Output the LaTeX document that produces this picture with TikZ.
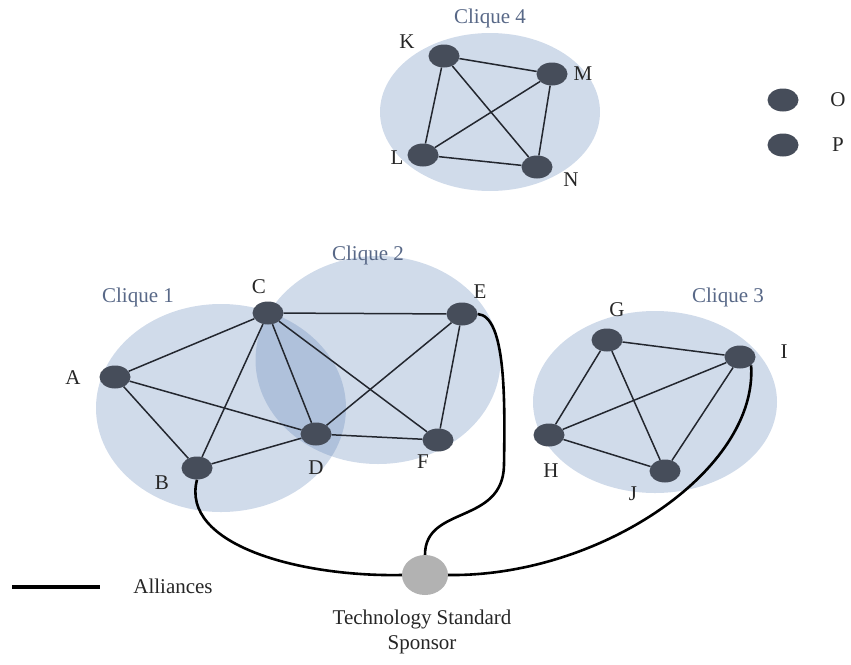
\documentclass[tikz,border=0pt]{standalone}
\usepackage{fontspec}
\setmainfont{Liberation Serif}
\usetikzlibrary{shapes.geometric}
\definecolor{vcol}{RGB}{70,77,90}
\definecolor{ccol}{RGB}{100,135,185}
\definecolor{clab}{RGB}{88,104,135}
\definecolor{ecol}{RGB}{35,39,47}
\definecolor{scol}{RGB}{178,178,178}
\tikzset{
  vert/.style={ellipse, fill=vcol, minimum width=31pt, minimum height=23pt, inner sep=0pt},
  clq/.style={ellipse, fill=ccol, fill opacity=0.3, inner sep=0pt},
  lab/.style={font=\fontsize{21}{25}\selectfont, text=black!85},
  clabel/.style={font=\fontsize{21}{25}\selectfont, text=clab},
  edge/.style={draw=ecol, line width=1.5pt},
  alliance/.style={draw=black, line width=2.6pt}
}
\begin{document}
\begin{tikzpicture}[x=1pt,y=-1pt]
\useasboundingbox (0,0) rectangle (851,664);
% clique backgrounds
\node[clq, minimum width=220pt, minimum height=158pt] (c4) at (490,112) {};
\node[clq, minimum width=250pt, minimum height=208pt] (c1) at (221,408) {};
\node[clq, minimum width=245pt, minimum height=208pt] (c2) at (378,360) {};
\node[clq, minimum width=244pt, minimum height=182pt] (c3) at (655,402) {};
% clique labels
\node[clabel] (l4) at (490,18) {Clique 4};
\node[clabel] (l1) at (138,297) {Clique 1};
\node[clabel] (l2) at (368,255) {Clique 2};
\node[clabel] (l3) at (728,297) {Clique 3};
% vertices
\node[vert] (K) at (444,56) {};
\node[vert] (M) at (552,74) {};
\node[vert] (L) at (423,155) {};
\node[vert] (N) at (537,167) {};
\node[vert] (A) at (115,377) {};
\node[vert] (B) at (197,468) {};
\node[vert] (C) at (268,313) {};
\node[vert] (D) at (316,434) {};
\node[vert] (E) at (462,314) {};
\node[vert] (F) at (438,440) {};
\node[vert] (G) at (607,340) {};
\node[vert] (H) at (549,435) {};
\node[vert] (I) at (740,357) {};
\node[vert] (J) at (665,471) {};
\node[ellipse, fill=scol, minimum width=46pt, minimum height=40pt, inner sep=0pt] (S) at (425,575) {};
% legend
\node[vert] (O) at (783,100) {};
\node[vert] (P) at (783,145) {};
\node[lab] (tO) at (838,100) {O};
\node[lab] (tP) at (838,145) {P};
% edges
\foreach \u/\v in {K/M,K/L,K/N,L/M,L/N,M/N,
  A/C,A/B,A/D,B/C,B/D,C/D,
  C/E,C/F,D/E,D/F,E/F,
  G/I,G/H,G/J,H/I,H/J,I/J}
  \draw[edge] (\u) -- (\v);
% vertex labels
\node[lab] (tK) at (407,42) {K};
\node[lab] (tM) at (583,74) {M};
\node[lab] (tL) at (397,158) {L};
\node[lab] (tN) at (571,180) {N};
\node[lab] (tA) at (73,378) {A};
\node[lab] (tB) at (162,483) {B};
\node[lab] (tC) at (259,287) {C};
\node[lab] (tD) at (316,468) {D};
\node[lab] (tE) at (480,292) {E};
\node[lab] (tF) at (423,462) {F};
\node[lab] (tG) at (617,310) {G};
\node[lab] (tH) at (551,471) {H};
\node[lab] (tI) at (784,352) {I};
\node[lab] (tJ) at (633,494) {J};
% alliances
\draw[alliance] (B.south) .. controls (180,545) and (300,577) .. (S.west);
\draw[alliance] (E.east) .. controls (506,316) and (505,400) .. (504,465)
   .. controls (503,525) and (425,505) .. (S.north);
\draw[alliance] (I.south east) .. controls (758,470) and (600,577) .. (S.east);
% legend line
\coordinate (al1) at (12,587);
\coordinate (al2) at (100,587);
\draw[alliance, line width=3.2pt] (al1) -- (al2);
\node[lab] (tAl) at (173,586) {Alliances};
\node[lab, align=center] (tS) at (422,632) {Technology Standard\\Sponsor};
\end{tikzpicture}
\end{document}
